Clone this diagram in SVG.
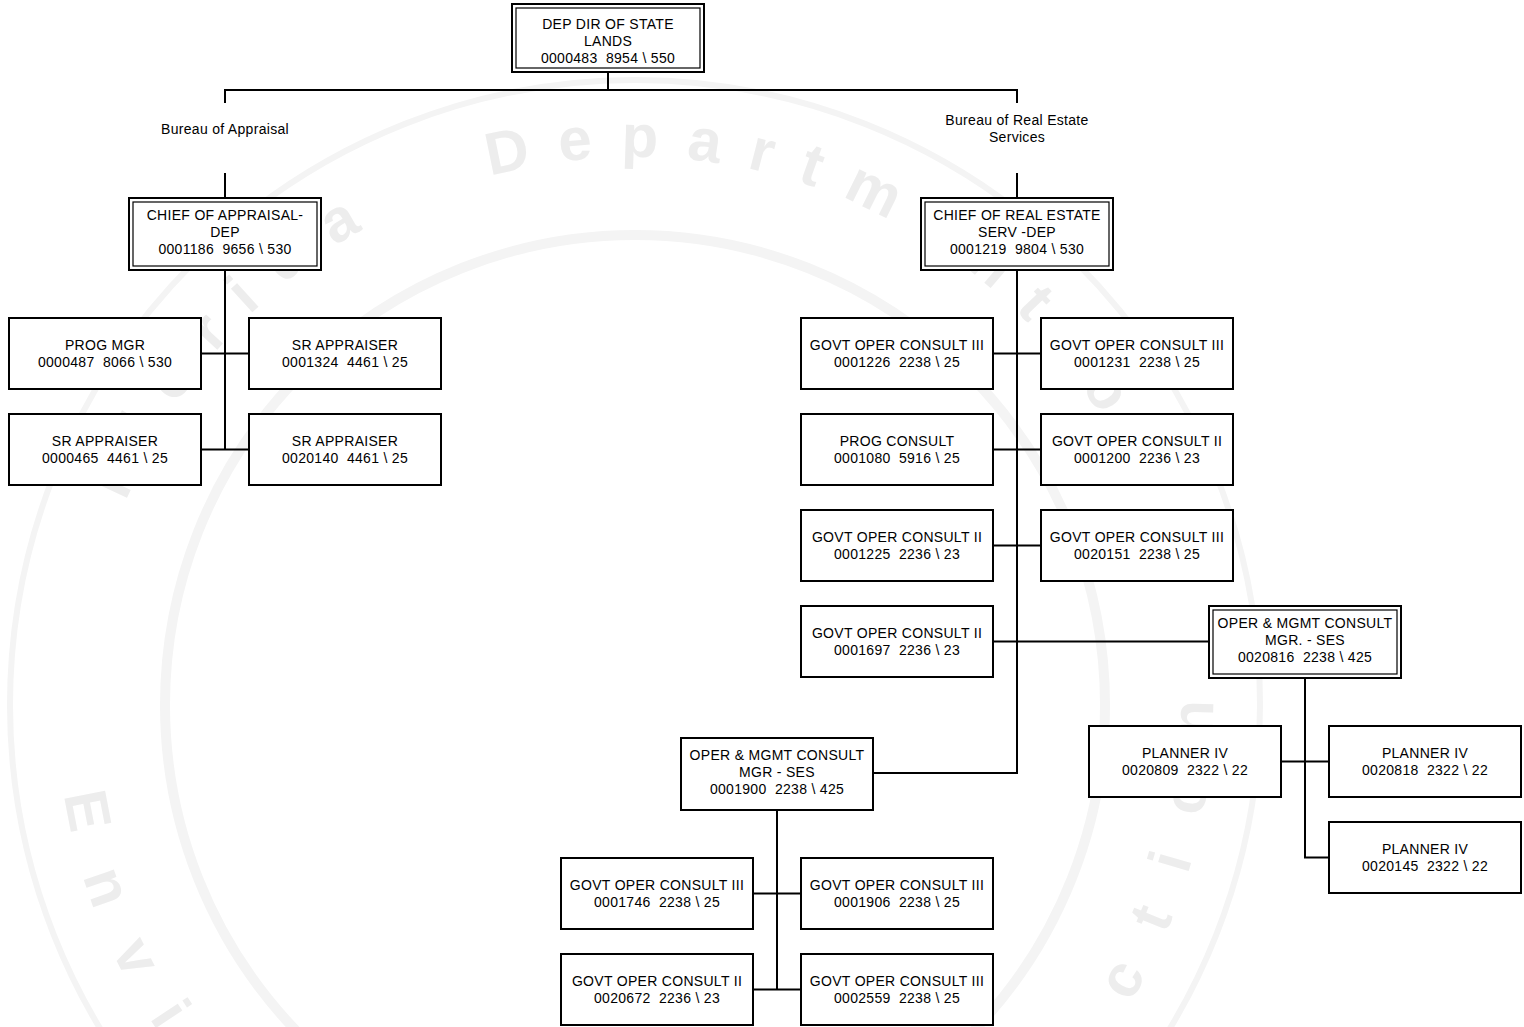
<svg xmlns="http://www.w3.org/2000/svg" width="1524" height="1027" viewBox="0 0 1524 1027">
  <style>
    .box { fill: #ffffff; stroke: #000000; stroke-width: 2; }
    .inner { fill: none; stroke: #000000; stroke-width: 1.2; }
    .lbl { font-family: "Liberation Sans", Arial, sans-serif; font-size: 14px; letter-spacing: 0.3px; fill: #000000; text-anchor: middle; white-space: pre; }
    .conn { stroke: #000000; stroke-width: 2; fill: none; }
    .seal { font-family: "Liberation Sans", Arial, sans-serif; font-weight: bold; font-size: 60px; fill: #ededed; }
    .ring { fill: none; stroke: #f4f4f4; }
  </style>
  <defs>
    <path id="arcTop" d="M 87 705 A 548 548 0 0 1 1183 705"/>
    <path id="arcBottom" d="M 57 705 A 578 578 0 0 0 1213 705"/>
  </defs>

  <rect width="1524" height="1027" fill="#ffffff"/>

  <!-- faint departmental seal behind the chart -->
  <g id="seal">
    <circle class="ring" cx="635" cy="705" r="470" stroke-width="10"/>
    <circle class="ring" cx="635" cy="705" r="625" stroke-width="6"/>
    <text class="seal" letter-spacing="28"><textPath href="#arcTop" startOffset="208">Florida</textPath></text>
    <text class="seal" letter-spacing="28"><textPath href="#arcTop" startOffset="714">Department</textPath></text>
    <text class="seal" letter-spacing="28"><textPath href="#arcTop" startOffset="1380">of</textPath></text>
    <text class="seal"><textPath href="#arcBottom" startOffset="90" textLength="1730" lengthAdjust="spacing">Environmental Protection</textPath></text>
  </g>

  <!-- reporting lines -->
  <g id="connectors">
    <path class="conn" d="M608 72V90M225 90H1017M225 89V103M1017 89V103"/>
    <path class="conn" d="M225 173V198M1017 173V198"/>
    <path class="conn" d="M225 270V450.5M201 353.5H249M201 449.5H249"/>
    <path class="conn" d="M1017 270V774M993 353.5H1041M993 449.5H1041M993 545.5H1041M993 641.5H1209M873 773H1018"/>
    <path class="conn" d="M1305 678V858.5M1281 761.5H1329M1304 857.5H1329"/>
    <path class="conn" d="M777 810V990.5M753 893.5H801M753 989.5H801"/>
  </g>

  <g id="bureau-labels">
    <text class="lbl" x="225" y="134">Bureau of Appraisal</text>
    <text class="lbl" x="1017" y="125">Bureau of Real Estate</text>
    <text class="lbl" x="1017" y="142">Services</text>
  </g>

  <g id="dep-dir-state-lands">
    <rect class="box" x="512" y="4" width="192" height="68"/>
    <rect class="inner" x="516" y="8" width="184" height="60"/>
    <text class="lbl" x="608" y="29">DEP DIR OF STATE</text>
    <text class="lbl" x="608" y="46">LANDS</text>
    <text class="lbl" x="608" y="63">0000483  8954 \ 550</text>
  </g>

  <g id="chief-appraisal">
    <rect class="box" x="129" y="198" width="192" height="72"/>
    <rect class="inner" x="133" y="202" width="184" height="64"/>
    <text class="lbl" x="225" y="220">CHIEF OF APPRAISAL-</text>
    <text class="lbl" x="225" y="237">DEP</text>
    <text class="lbl" x="225" y="254">0001186  9656 \ 530</text>
  </g>

  <g id="chief-real-estate">
    <rect class="box" x="921" y="198" width="192" height="72"/>
    <rect class="inner" x="925" y="202" width="184" height="64"/>
    <text class="lbl" x="1017" y="220">CHIEF OF REAL ESTATE</text>
    <text class="lbl" x="1017" y="237">SERV -DEP</text>
    <text class="lbl" x="1017" y="254">0001219  9804 \ 530</text>
  </g>

  <g id="prog-mgr-0000487">
    <rect class="box" x="9" y="318" width="192" height="71"/>
    <text class="lbl" x="105" y="350">PROG MGR</text>
    <text class="lbl" x="105" y="367">0000487  8066 \ 530</text>
  </g>
  <g id="sr-appraiser-0001324">
    <rect class="box" x="249" y="318" width="192" height="71"/>
    <text class="lbl" x="345" y="350">SR APPRAISER</text>
    <text class="lbl" x="345" y="367">0001324  4461 \ 25</text>
  </g>
  <g id="sr-appraiser-0000465">
    <rect class="box" x="9" y="414" width="192" height="71"/>
    <text class="lbl" x="105" y="446">SR APPRAISER</text>
    <text class="lbl" x="105" y="463">0000465  4461 \ 25</text>
  </g>
  <g id="sr-appraiser-0020140">
    <rect class="box" x="249" y="414" width="192" height="71"/>
    <text class="lbl" x="345" y="446">SR APPRAISER</text>
    <text class="lbl" x="345" y="463">0020140  4461 \ 25</text>
  </g>

  <g id="govt-oper-0001226">
    <rect class="box" x="801" y="318" width="192" height="71"/>
    <text class="lbl" x="897" y="350">GOVT OPER CONSULT III</text>
    <text class="lbl" x="897" y="367">0001226  2238 \ 25</text>
  </g>
  <g id="govt-oper-0001231">
    <rect class="box" x="1041" y="318" width="192" height="71"/>
    <text class="lbl" x="1137" y="350">GOVT OPER CONSULT III</text>
    <text class="lbl" x="1137" y="367">0001231  2238 \ 25</text>
  </g>
  <g id="prog-consult-0001080">
    <rect class="box" x="801" y="414" width="192" height="71"/>
    <text class="lbl" x="897" y="446">PROG CONSULT</text>
    <text class="lbl" x="897" y="463">0001080  5916 \ 25</text>
  </g>
  <g id="govt-oper-0001200">
    <rect class="box" x="1041" y="414" width="192" height="71"/>
    <text class="lbl" x="1137" y="446">GOVT OPER CONSULT II</text>
    <text class="lbl" x="1137" y="463">0001200  2236 \ 23</text>
  </g>
  <g id="govt-oper-0001225">
    <rect class="box" x="801" y="510" width="192" height="71"/>
    <text class="lbl" x="897" y="542">GOVT OPER CONSULT II</text>
    <text class="lbl" x="897" y="559">0001225  2236 \ 23</text>
  </g>
  <g id="govt-oper-0020151">
    <rect class="box" x="1041" y="510" width="192" height="71"/>
    <text class="lbl" x="1137" y="542">GOVT OPER CONSULT III</text>
    <text class="lbl" x="1137" y="559">0020151  2238 \ 25</text>
  </g>
  <g id="govt-oper-0001697">
    <rect class="box" x="801" y="606" width="192" height="71"/>
    <text class="lbl" x="897" y="638">GOVT OPER CONSULT II</text>
    <text class="lbl" x="897" y="655">0001697  2236 \ 23</text>
  </g>

  <g id="oper-mgmt-0020816">
    <rect class="box" x="1209" y="606" width="192" height="72"/>
    <rect class="inner" x="1213" y="610" width="184" height="64"/>
    <text class="lbl" x="1305" y="628">OPER &amp; MGMT CONSULT</text>
    <text class="lbl" x="1305" y="645">MGR. - SES</text>
    <text class="lbl" x="1305" y="662">0020816  2238 \ 425</text>
  </g>
  <g id="planner-0020809">
    <rect class="box" x="1089" y="726" width="192" height="71"/>
    <text class="lbl" x="1185" y="758">PLANNER IV</text>
    <text class="lbl" x="1185" y="775">0020809  2322 \ 22</text>
  </g>
  <g id="planner-0020818">
    <rect class="box" x="1329" y="726" width="192" height="71"/>
    <text class="lbl" x="1425" y="758">PLANNER IV</text>
    <text class="lbl" x="1425" y="775">0020818  2322 \ 22</text>
  </g>
  <g id="planner-0020145">
    <rect class="box" x="1329" y="822" width="192" height="71"/>
    <text class="lbl" x="1425" y="854">PLANNER IV</text>
    <text class="lbl" x="1425" y="871">0020145  2322 \ 22</text>
  </g>

  <g id="oper-mgmt-0001900">
    <rect class="box" x="681" y="738" width="192" height="72"/>
    <text class="lbl" x="777" y="760">OPER &amp; MGMT CONSULT</text>
    <text class="lbl" x="777" y="777">MGR - SES</text>
    <text class="lbl" x="777" y="794">0001900  2238 \ 425</text>
  </g>
  <g id="govt-oper-0001746">
    <rect class="box" x="561" y="858" width="192" height="71"/>
    <text class="lbl" x="657" y="890">GOVT OPER CONSULT III</text>
    <text class="lbl" x="657" y="907">0001746  2238 \ 25</text>
  </g>
  <g id="govt-oper-0001906">
    <rect class="box" x="801" y="858" width="192" height="71"/>
    <text class="lbl" x="897" y="890">GOVT OPER CONSULT III</text>
    <text class="lbl" x="897" y="907">0001906  2238 \ 25</text>
  </g>
  <g id="govt-oper-0020672">
    <rect class="box" x="561" y="954" width="192" height="71"/>
    <text class="lbl" x="657" y="986">GOVT OPER CONSULT II</text>
    <text class="lbl" x="657" y="1003">0020672  2236 \ 23</text>
  </g>
  <g id="govt-oper-0002559">
    <rect class="box" x="801" y="954" width="192" height="71"/>
    <text class="lbl" x="897" y="986">GOVT OPER CONSULT III</text>
    <text class="lbl" x="897" y="1003">0002559  2238 \ 25</text>
  </g>
</svg>
